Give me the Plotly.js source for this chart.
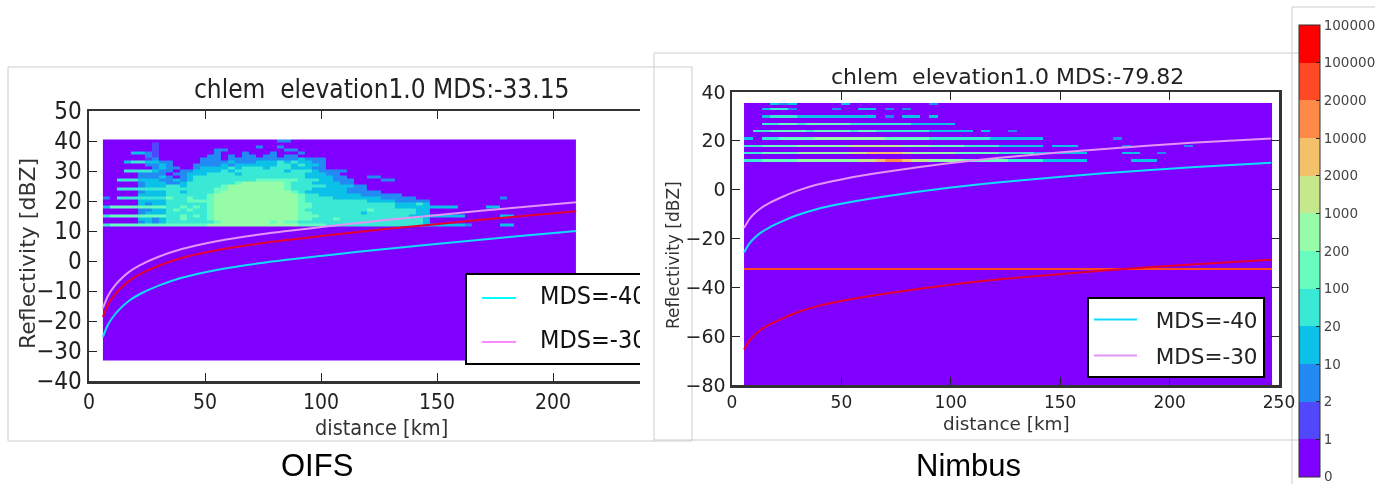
<!DOCTYPE html>
<html><head><meta charset="utf-8">
<script src="https://cdn.plot.ly/plotly-3.0.1.min.js"></script>
<style>html,body{margin:0;padding:0;background:#fff;overflow:hidden}#c{width:1375px;height:484px;filter:blur(0.45px)}</style>
</head><body><div id="c"></div>
<script>
// colour bands and colourbar labels
const bandColors=["#8000ff","#5148fc","#238af4","#0cc1e8","#3ae8d6","#68fcc1","#97fca7","#c5e88a","#f3c16a","#ff8a48","#ff4824","#ff0000"];
const bandLabels=["","1","2","10","20","100","200","1000","2000","10000","20000","100000","100000"];
const bandBottomLabel="0";

// OIFS histogram: one string per dBZ row (level digit per 3 km column), zeros to the right implied
const oifsRows={
12:"45555555555555566666666666665555444444444444443333332000033",
13:"00000232344444445666666656554444444444444444443",
14:"00000332344544456666666666665544454444444444443",
15:"45555555544545456666666666665554444444444444333333330000033",
16:"00000233344444456666666666665544444443444444433",
17:"00000223345454456666666666665444444444544444433",
18:"355555555445454566666666666655444444444444333333333000033",
19:"00000323344444456666666666665544444444444433343",
20:"00000333344455556666666666665444444444333322222",
21:"2044444445445445666666666666544443333333222220000000000002",
22:"00000333344444456666666666665443333332222220",
23:"00000233344344445666666666654333333222220",
24:"0044444444444444556666666654443333322200",
25:"00000233344344444566666666544444333322",
26:"00000233322344444445666666544433332200",
27:"0044433322323444444444555555444332220000220",
28:"0000022232023444444444444444433332200022",
29:"0000022220223334444344444444433322",
30:"00044443220223333434444444344432222",
31:"00000002322002333343444344433322",
32:"00000022320002222323333334434332",
33:"00034433220000222232223334343322",
34:"00000012000000222022222222223222",
35:"00000021000000022020220220220",
36:"00003321000000002000200020002",
37:"00000001000000002200000000220",
38:"000000010000000000000020020",
39:"00000001000000000000000000",
40:"0000000000000000000000000220"
};
// Nimbus histogram: streak rows (level digit per 4 km column)
const nimbusRows={
12:"44555566666667789987766665555544443333300000333",
15:"445555666666778888766666555554444333333000033002",
18:"445555666666777777666555544443333303330000020000002",
21:"3044555566666666555554444444333333000000002",
24:"0445555455554554444443333303002",
27:"004455455555444444433333",
30:"0034443333333330203303",
33:"0034420000200330202",
35:"000323000003000000000200"
};
const nimbusMinLevel=10; // horizontal band at about -32.5 dBZ

const oifsLineX=[6,8,10,13,17,22,30,40,55,75,100,130,170,210];
const oifsCyan=[-25.3,-21.5,-19,-16.2,-13.4,-11,-8.2,-5.6,-3,-0.6,1.7,4.2,7.2,10];
const oifsPink=[-15.7,-11.9,-9.4,-6.6,-3.8,-1.4,1.4,4,6.6,9,11.3,13.8,16.8,19.6];
const oifsRed=[-18.7,-14.9,-12.4,-9.6,-6.8,-4.4,-1.6,1,3.6,6,8.3,10.8,13.8,16.6];
const nimbusLineX=[5.5,8,10,13,17,23.7,30,38.6,50,69,100,130,170,210,246.5];
const nimbusCyan=[-25.7,-22,-20,-17.7,-15.5,-12.7,-10.4,-8,-5.8,-2.9,0.9,3.7,6.7,9.2,11];
const nimbusPink=[-15.7,-12,-10,-7.7,-5.5,-2.7,-0.4,2,4.2,7.1,10.9,13.7,16.7,19.2,21];
const nimbusRed=[-65.5,-61.8,-59.8,-57.5,-55.3,-52.5,-50.2,-47.8,-45.6,-42.7,-38.9,-36.1,-33.1,-30.6,-28.7];

const W=1375,H=484;
const px=v=>v/W, py=v=>1-v/H;
const MAIN='"DejaVu Sans",sans-serif', COND='"DejaVu Sans Condensed","DejaVu Sans",sans-serif';

const cols=(s,n)=>s.padEnd(n,'0').split('').slice(0,n).map(d=>+d+0.5);
function oifsGrid(){
  const n=68,xe=[],ye=[-33,11.5],z=[Array(n).fill(0.5)];
  for(let i=0;i<=n;i++)xe.push(6+3*i);
  for(let d=12;d<=40;d++){ye.push(d+0.5);z.push(cols(oifsRows[d],n));}
  return {x:xe,y:ye,z};
}
function nimbusGrid(){
  const n=60,xe=[],ye=[-80,-33,-32,11.5],z=[Array(n).fill(0.5),Array(n).fill(nimbusMinLevel+0.5),Array(n).fill(0.5)];
  for(let i=0;i<=n;i++)xe.push(5.5+4.02*i);
  for(let d=12;d<=35;d++){ye.push(d+0.5);z.push(cols(nimbusRows[d]||"",n));}
  return {x:xe,y:ye,z};
}
const cs=[];bandColors.forEach((c,i)=>{cs.push([i/12,c]);cs.push([(i+1)/12,c]);});

const line=(x,y,color,xa,ya,name,show,group)=>({type:'scatter',mode:'lines',x,y,xaxis:xa,yaxis:ya,name,showlegend:!!show,legendgroup:group,
  line:{color,width:2,shape:'spline',smoothing:0.8},hoverinfo:'skip'});
const lg=oifsGrid(), rg=nimbusGrid();
const traces=[
 {type:'heatmap',x:lg.x,y:lg.y,z:lg.z,coloraxis:'coloraxis',xaxis:'x',yaxis:'y',showlegend:false,hoverinfo:'skip'},
 {type:'heatmap',x:rg.x,y:rg.y,z:rg.z,coloraxis:'coloraxis',xaxis:'x2',yaxis:'y2',showlegend:false,hoverinfo:'skip'},
 line(oifsLineX,oifsPink,'#e494f4','x','y','MDS=-30',false),
 line(oifsLineX,oifsRed,'#e6002e','x','y','model',false),
 line(oifsLineX,oifsCyan,'#10dcff','x','y','MDS=-40',false),
 // clipped OIFS legend, drawn inside the subplot so the axis clip cuts it
 {type:'scatter',mode:'lines',x:[162.5,162.5,260,260,162.5],y:[-4.3,-34.3,-34.3,-4.3,-4.3],fill:'toself',fillcolor:'#fff',line:{color:'#000',width:2},showlegend:false,hoverinfo:'skip'},
 {type:'scatter',mode:'lines',x:[169.4,184],y:[-12.3,-12.3],line:{color:'#00ffff',width:2},showlegend:false,hoverinfo:'skip'},
 {type:'scatter',mode:'lines',x:[169.4,184],y:[-27,-27],line:{color:'#ff88ff',width:2},showlegend:false,hoverinfo:'skip'},
 {type:'scatter',mode:'text',x:[194.4,194.4],y:[-12.3,-27],text:['MDS=-40','MDS=-30'],textposition:'middle right',textfont:{family:COND,size:25,color:'#111'},cliponaxis:true,showlegend:false,hoverinfo:'skip'},
 line(nimbusLineX,nimbusRed,'#e6002e','x2','y2','model',false),
 line(nimbusLineX,nimbusCyan,'#10dcff','x2','y2','\u00a0\u00a0MDS=-40',true,'a'),
 line(nimbusLineX,nimbusPink,'#e494f4','x2','y2','\u00a0\u00a0MDS=-30',true,'b')
];
const axisBase={showgrid:false,zeroline:false,showline:true,linewidth:2.5,linecolor:'#333',ticks:'inside',ticklen:8,tickwidth:1,tickcolor:'#222'};
const frame=(x0,y0,x1,y1)=>({type:'rect',xref:'paper',yref:'paper',x0:px(x0),x1:px(x1),y0:py(y0),y1:py(y1),line:{color:'#cdcdcd',width:1},fillcolor:'rgba(0,0,0,0)',layer:'below'});
const note=(text,x,y,size,fam,color,angle)=>({text,xref:'paper',yref:'paper',x:px(x),y:py(y),xanchor:'center',yanchor:'middle',showarrow:false,textangle:angle||0,font:{family:fam,size,color}});
const layout={
 width:W,height:H,margin:{l:0,r:0,t:0,b:0,autoexpand:false},paper_bgcolor:'#fff',plot_bgcolor:'#fff',
 showlegend:true,
 legend:{x:px(1087),xanchor:'left',y:py(297),yanchor:'top',bgcolor:'#fff',bordercolor:'#000',borderwidth:2,font:{family:MAIN,size:21.5,color:'#222'},itemwidth:43,tracegroupgap:5,entrywidth:201,entrywidthmode:'pixels'},
 coloraxis:{cmin:0,cmax:12,colorscale:cs,colorbar:{x:px(1299),xanchor:'left',y:py(25),yanchor:'top',lenmode:'pixels',len:452,thicknessmode:'pixels',thickness:21,xpad:0,ypad:0,
   tickmode:'array',tickvals:bandLabels.map((_,i)=>i),ticktext:bandLabels,ticks:'inside',ticklen:4,tickcolor:'#222',outlinecolor:'#333',outlinewidth:1,tickfont:{family:MAIN,size:13.5,color:'#444'}}},
 xaxis:{...axisBase,domain:[px(89),px(640)],range:[0,237.5],dtick:50,mirror:'ticks',tickfont:{family:COND,size:21,color:'#222'},anchor:'y'},
 yaxis:{...axisBase,domain:[py(381),py(111)],range:[-40,50],dtick:10,tickfont:{family:COND,size:24,color:'#222'},anchor:'x'},
 xaxis2:{...axisBase,domain:[px(732),px(1279)],range:[0,250],dtick:50,mirror:'ticks',tickfont:{family:MAIN,size:17,color:'#222'},anchor:'y2'},
 yaxis2:{...axisBase,domain:[py(385),py(92)],range:[-80,40],dtick:20,mirror:'ticks',tickfont:{family:MAIN,size:19,color:'#222'},anchor:'x2'},
 shapes:[frame(8,67,692,441),frame(654,53,1305,440),frame(1292,7,1380,490)],
 annotations:[
  note('chlem  elevation1.0 MDS:-33.15',381,89,26,COND,'#222'),
  note('chlem  elevation1.0 MDS:-79.82',1007,76,22,MAIN,'#222'),
  note('distance [km]',381,427,21.5,COND,'#333'),
  note('distance [km]',1006,423,18.4,MAIN,'#333'),
  note('Reflectivity [dBZ]',27,254,22,MAIN,'#333',-90),
  note('Reflectivity [dBZ]',673,255,17,MAIN,'#333',-90),
  note('OIFS',317,465.5,31,'"Liberation Sans",sans-serif','#000'),
  note('Nimbus',968,465.5,31,'"Liberation Sans",sans-serif','#000'),
  note(bandBottomLabel,1328,475.5,13.5,MAIN,'#444')
 ]
};
Plotly.newPlot('c',traces,layout,{displayModeBar:false,staticPlot:true});
</script></body></html>
